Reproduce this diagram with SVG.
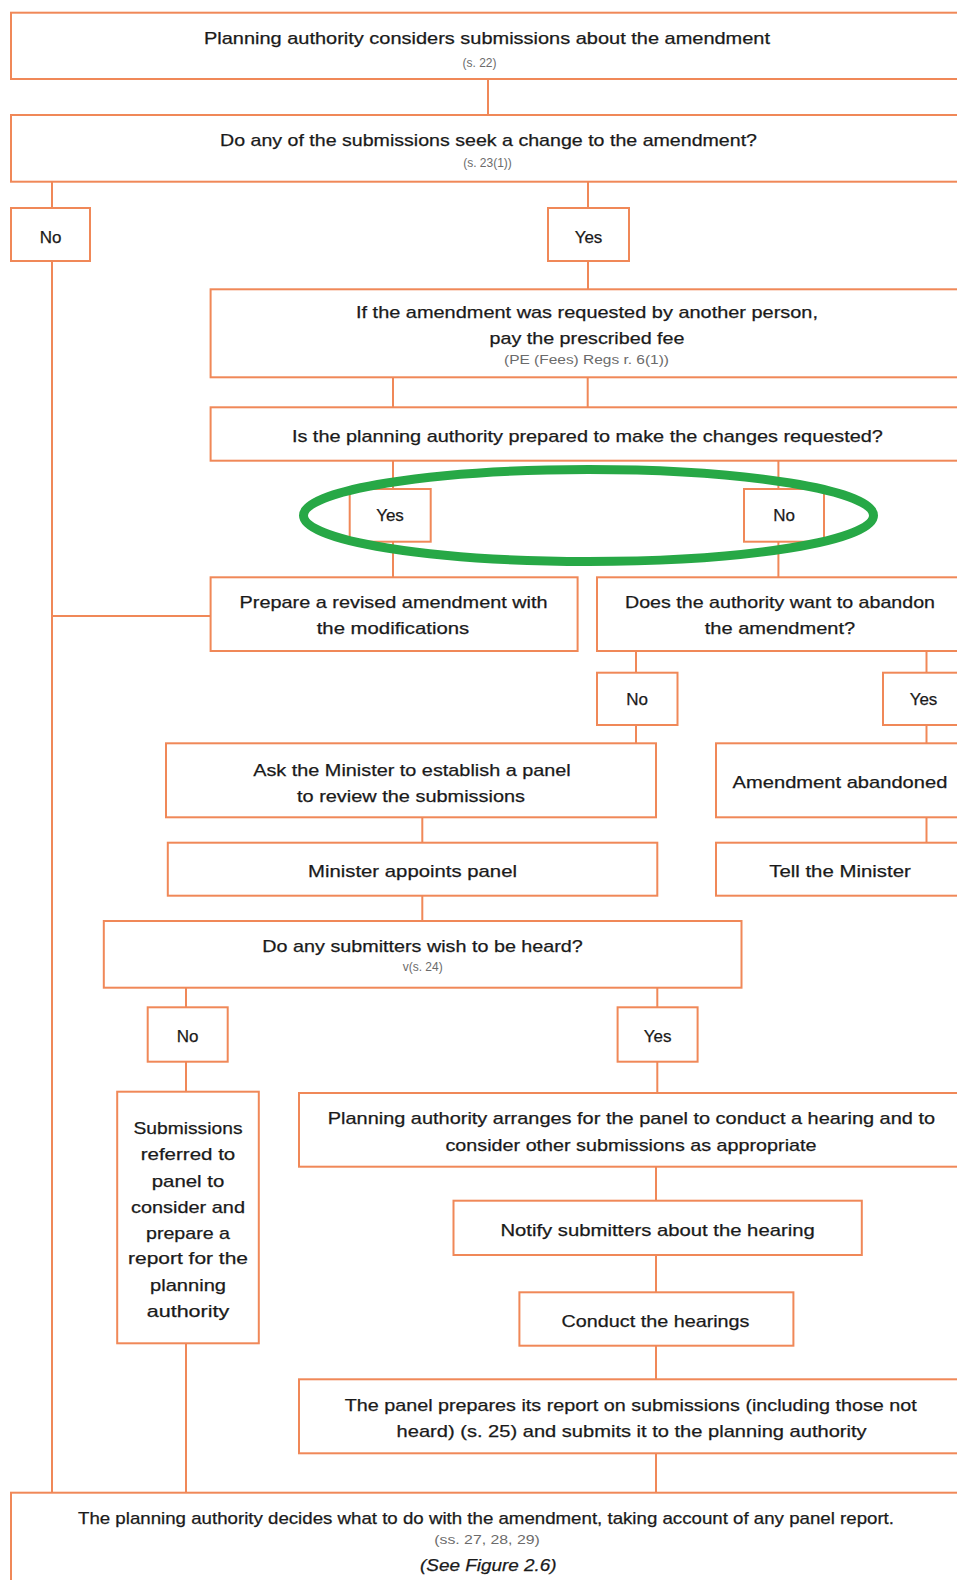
<svg xmlns="http://www.w3.org/2000/svg" width="957" height="1580" viewBox="0 0 957 1580">
<style>
.b{fill:#fff;stroke:#F08858;stroke-width:2}
.c line{stroke:#F08858;stroke-width:2}
text{font-family:"Liberation Sans",Arial,sans-serif;text-anchor:middle}
.t{font-size:17px;fill:#1a1a1a;stroke:#1a1a1a;stroke-width:0.25}
.s{font-size:12px;fill:#6b6b6b}
.i{font-size:17px;fill:#1a1a1a;font-style:italic;stroke:#1a1a1a;stroke-width:0.25}
</style>
<rect width="957" height="1580" fill="#fff"/>
<g class="c" id="connectors">
<line x1="488" y1="79" x2="488" y2="115"/>
<line x1="52" y1="181.7" x2="52" y2="208"/>
<line x1="52" y1="261" x2="52" y2="1492.7"/>
<line x1="52" y1="616" x2="210.6" y2="616"/>
<line x1="588" y1="181.7" x2="588" y2="208"/>
<line x1="588" y1="261" x2="588" y2="289.3"/>
<line x1="393" y1="377.3" x2="393" y2="407.3"/>
<line x1="587.7" y1="377.3" x2="587.7" y2="407.3"/>
<line x1="393" y1="460.7" x2="393" y2="489"/>
<line x1="393" y1="541.7" x2="393" y2="577.3"/>
<line x1="778.4" y1="460.7" x2="778.4" y2="489"/>
<line x1="778.4" y1="541.7" x2="778.4" y2="577.3"/>
<line x1="636" y1="651" x2="636" y2="672.7"/>
<line x1="636" y1="725" x2="636" y2="743.3"/>
<line x1="926.5" y1="651" x2="926.5" y2="672.7"/>
<line x1="926.5" y1="725" x2="926.5" y2="743.3"/>
<line x1="926.5" y1="817.3" x2="926.5" y2="842.7"/>
<line x1="422.3" y1="817.3" x2="422.3" y2="842.7"/>
<line x1="422.3" y1="895.7" x2="422.3" y2="921"/>
<line x1="186" y1="987.7" x2="186" y2="1007.3"/>
<line x1="186" y1="1061.7" x2="186" y2="1091.7"/>
<line x1="186" y1="1343.3" x2="186" y2="1492.7"/>
<line x1="657.3" y1="987.7" x2="657.3" y2="1007.3"/>
<line x1="657.3" y1="1061.7" x2="657.3" y2="1093"/>
<line x1="656" y1="1166.7" x2="656" y2="1200.7"/>
<line x1="656" y1="1255" x2="656" y2="1292.3"/>
<line x1="656" y1="1345.7" x2="656" y2="1379.3"/>
<line x1="656" y1="1453.3" x2="656" y2="1492.7"/>
</g>
<g id="n1"><rect class="b" x="11" y="12.7" width="970" height="66.3"/>
<text class="t" x="487" y="44" textLength="566" lengthAdjust="spacingAndGlyphs">Planning authority considers submissions about the amendment</text>
<text class="s" x="479.5" y="67">(s. 22)</text></g>
<g id="n2"><rect class="b" x="11" y="115" width="970" height="66.7"/>
<text class="t" x="488.5" y="146" textLength="537" lengthAdjust="spacingAndGlyphs">Do any of the submissions seek a change to the amendment?</text>
<text class="s" x="487.5" y="167">(s. 23(1))</text></g>
<g id="n2no"><rect class="b" x="11" y="208" width="79" height="53"/><text class="t" x="50.5" y="243">No</text></g>
<g id="n2yes"><rect class="b" x="548" y="208" width="81" height="53"/><text class="t" x="588.5" y="243">Yes</text></g>
<g id="n3"><rect class="b" x="210.6" y="289.3" width="770" height="88"/>
<text class="t" x="587" y="318" textLength="462" lengthAdjust="spacingAndGlyphs">If the amendment was requested by another person,</text>
<text class="t" x="587" y="344" textLength="195" lengthAdjust="spacingAndGlyphs">pay the prescribed fee</text>
<text class="s" x="586.5" y="363.5" textLength="165" lengthAdjust="spacingAndGlyphs">(PE (Fees) Regs r. 6(1))</text></g>
<g id="n4"><rect class="b" x="210.6" y="407.3" width="770" height="53.4"/>
<text class="t" x="587.4" y="441.7" textLength="591" lengthAdjust="spacingAndGlyphs">Is the planning authority prepared to make the changes requested?</text></g>
<g id="n4yes"><rect class="b" x="349.7" y="489" width="81" height="52.7"/><text class="t" x="390" y="521">Yes</text></g>
<g id="n4no"><rect class="b" x="744" y="489" width="80" height="52.7"/><text class="t" x="784" y="521">No</text></g>
<g id="n5"><rect class="b" x="210.6" y="577.3" width="367" height="73.7"/>
<text class="t" x="393.6" y="607.7" textLength="308" lengthAdjust="spacingAndGlyphs">Prepare a revised amendment with</text>
<text class="t" x="393" y="633.7" textLength="152.6" lengthAdjust="spacingAndGlyphs">the modifications</text></g>
<g id="n6"><rect class="b" x="597" y="577.3" width="400" height="73.7"/>
<text class="t" x="780" y="607.7" textLength="310" lengthAdjust="spacingAndGlyphs">Does the authority want to abandon</text>
<text class="t" x="780" y="633.7" textLength="150.5" lengthAdjust="spacingAndGlyphs">the amendment?</text></g>
<g id="n6no"><rect class="b" x="597" y="672.7" width="80.5" height="52.3"/><text class="t" x="637" y="705">No</text></g>
<g id="n6yes"><rect class="b" x="883" y="672.7" width="100" height="52.3"/><text class="t" x="923.5" y="705">Yes</text></g>
<g id="n7"><rect class="b" x="166" y="743.3" width="490" height="74"/>
<text class="t" x="412" y="776" textLength="317.6" lengthAdjust="spacingAndGlyphs">Ask the Minister to establish a panel</text>
<text class="t" x="411" y="802" textLength="228" lengthAdjust="spacingAndGlyphs">to review the submissions</text></g>
<g id="n8"><rect class="b" x="716" y="743.3" width="300" height="74"/>
<text class="t" x="840" y="787.7" textLength="214.8" lengthAdjust="spacingAndGlyphs">Amendment abandoned</text></g>
<g id="n9"><rect class="b" x="167.8" y="842.7" width="489.5" height="53"/>
<text class="t" x="412.5" y="877" textLength="209" lengthAdjust="spacingAndGlyphs">Minister appoints panel</text></g>
<g id="n10"><rect class="b" x="716" y="842.7" width="300" height="53"/>
<text class="t" x="840" y="877" textLength="141.6" lengthAdjust="spacingAndGlyphs">Tell the Minister</text></g>
<g id="n11"><rect class="b" x="103.8" y="921" width="637.7" height="66.7"/>
<text class="t" x="422.6" y="952" textLength="320.5" lengthAdjust="spacingAndGlyphs">Do any submitters wish to be heard?</text>
<text class="s" x="422.7" y="970.7">v(s. 24)</text></g>
<g id="n11no"><rect class="b" x="147.7" y="1007.3" width="80" height="54.4"/><text class="t" x="187.6" y="1042">No</text></g>
<g id="n11yes"><rect class="b" x="617.6" y="1007.3" width="80" height="54.4"/><text class="t" x="657.6" y="1042">Yes</text></g>
<g id="n12"><rect class="b" x="117.2" y="1091.7" width="141.6" height="251.6"/>
<text class="t" x="188" y="1134.3" textLength="109" lengthAdjust="spacingAndGlyphs">Submissions</text>
<text class="t" x="188" y="1160.3" textLength="94.6" lengthAdjust="spacingAndGlyphs">referred to</text>
<text class="t" x="188" y="1186.7" textLength="72.6" lengthAdjust="spacingAndGlyphs">panel to</text>
<text class="t" x="188" y="1212.7" textLength="114" lengthAdjust="spacingAndGlyphs">consider and</text>
<text class="t" x="188" y="1238.7" textLength="84" lengthAdjust="spacingAndGlyphs">prepare a</text>
<text class="t" x="188" y="1264.3" textLength="120" lengthAdjust="spacingAndGlyphs">report for the</text>
<text class="t" x="188" y="1290.7" textLength="76" lengthAdjust="spacingAndGlyphs">planning</text>
<text class="t" x="188" y="1316.7" textLength="82.5" lengthAdjust="spacingAndGlyphs">authority</text></g>
<g id="n13"><rect class="b" x="299" y="1093" width="700" height="73.7"/>
<text class="t" x="631.4" y="1124.3" textLength="607.3" lengthAdjust="spacingAndGlyphs">Planning authority arranges for the panel to conduct a hearing and to</text>
<text class="t" x="631" y="1151" textLength="371" lengthAdjust="spacingAndGlyphs">consider other submissions as appropriate</text></g>
<g id="n14"><rect class="b" x="453.5" y="1200.7" width="408.3" height="54.3"/>
<text class="t" x="657.6" y="1236" textLength="314.3" lengthAdjust="spacingAndGlyphs">Notify submitters about the hearing</text></g>
<g id="n15"><rect class="b" x="519.4" y="1292.3" width="274" height="53.4"/>
<text class="t" x="655.5" y="1326.7" textLength="188" lengthAdjust="spacingAndGlyphs">Conduct the hearings</text></g>
<g id="n16"><rect class="b" x="299" y="1379.3" width="700" height="74"/>
<text class="t" x="630.7" y="1411" textLength="572" lengthAdjust="spacingAndGlyphs">The panel prepares its report on submissions (including those not</text>
<text class="t" x="631.6" y="1436.7" textLength="470" lengthAdjust="spacingAndGlyphs">heard) (s. 25) and submits it to the planning authority</text></g>
<g id="n17"><rect class="b" x="11" y="1492.7" width="980" height="120"/>
<text class="t" x="486" y="1524.3" textLength="816" lengthAdjust="spacingAndGlyphs">The planning authority decides what to do with the amendment, taking account of any panel report.</text>
<text class="s" x="487" y="1544" textLength="105.5" lengthAdjust="spacingAndGlyphs">(ss. 27, 28, 29)</text>
<text class="i" x="488.3" y="1571" textLength="136.6" lengthAdjust="spacingAndGlyphs">(See Figure 2.6)</text></g>
<g id="highlight"><ellipse cx="588.5" cy="515.5" rx="285" ry="46" fill="none" stroke="#27A846" stroke-width="9"/></g>
</svg>
